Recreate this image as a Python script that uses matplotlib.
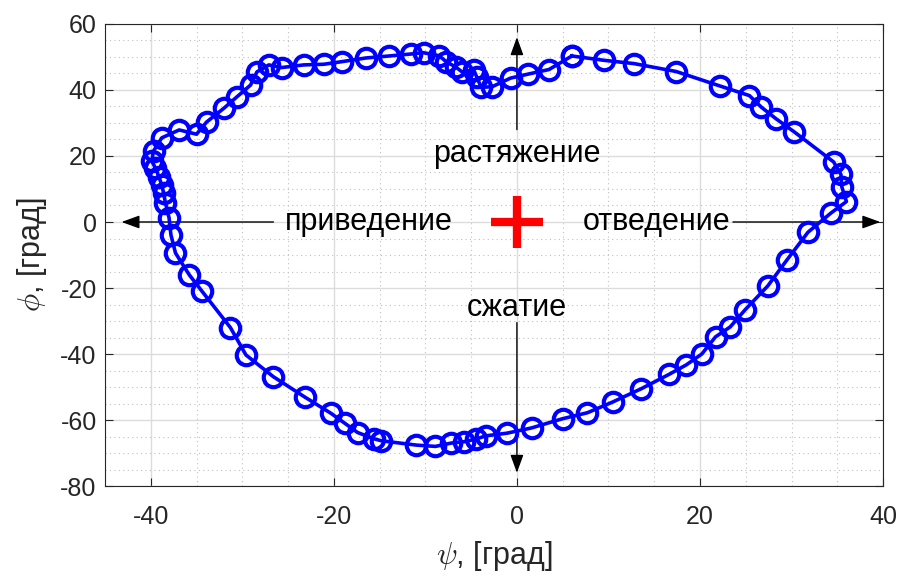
import matplotlib
matplotlib.use("Agg")
import matplotlib.pyplot as plt
from matplotlib.ticker import MultipleLocator

# траектория (psi, phi), град
psi = [6.0, 9.5, 12.8, 17.4, 22.2, 25.4, 26.7, 28.3, 30.3, 34.6, 35.4, 35.5, 36.0,
       34.3, 31.8, 29.5, 27.4, 24.9, 23.3, 21.7, 20.2, 18.5, 16.6, 13.6, 10.5, 7.7,
       5.0, 1.6, -1.1, -3.4, -4.5, -5.8, -7.2, -8.9, -11.0, -14.8, -15.6, -17.4,
       -18.8, -20.3, -23.2, -26.6, -29.6, -31.3, -34.4, -35.8, -37.3, -37.8, -38.0,
       -38.4, -38.6, -38.8, -39.1, -39.5, -39.9, -39.7, -38.8, -36.9, -35.0, -33.9,
       -32.0, -30.6, -29.1, -28.4, -27.1, -25.7, -23.3, -21.1, -19.1, -16.5, -14.0,
       -11.6, -10.2, -8.5, -7.7, -6.7, -6.0, -4.7, -4.4, -3.9, -2.7, -0.7, 1.2, 3.5, 6.0]
phi = [50.3, 49.0, 48.0, 45.6, 41.2, 38.3, 34.8, 31.3, 27.3, 18.2, 14.4, 10.6, 6.2,
       2.7, -3.1, -11.5, -19.4, -26.7, -31.8, -34.8, -40.0, -43.3, -46.2, -50.5,
       -54.5, -57.8, -59.6, -62.4, -64.0, -64.8, -65.8, -66.6, -67.0, -68.0, -67.6,
       -66.3, -65.7, -63.8, -61.0, -58.0, -53.0, -46.9, -40.3, -32.0, -21.0, -16.0,
       -9.4, -3.9, 1.2, 5.8, 8.8, 11.2, 13.6, 16.4, 18.5, 21.5, 25.5, 27.9, 26.6,
       30.3, 34.5, 37.9, 41.5, 45.5, 47.6, 46.8, 47.6, 47.8, 48.6, 49.7, 50.3, 50.9,
       51.3, 50.4, 48.5, 47.0, 45.5, 46.0, 44.0, 40.8, 41.0, 43.6, 44.8, 46.2, 50.3]

plt.rcParams['font.family'] = ['Liberation Sans', 'DejaVu Sans']
plt.rcParams['mathtext.fontset'] = 'cm'
plt.rcParams['axes.unicode_minus'] = False

fig = plt.figure(figsize=(9.03, 5.81), dpi=100)
ax = fig.add_axes([0.1163, 0.1635, 0.8616, 0.7952])

ax.plot(psi, phi, '-o', color='#0000ff', lw=2.6, ms=14, mfc='none', mew=3.0, zorder=3)
ax.plot([0], [0], '+', color='#ff0000', ms=38, mew=6, zorder=4)

arrow = dict(arrowstyle='-|>,head_length=1.1,head_width=0.4', color='black', lw=1.0,
             shrinkA=0, shrinkB=0)
ax.annotate('', xy=(-43.2, 0), xytext=(-26.6, 0), arrowprops=arrow, zorder=2)
ax.annotate('', xy=(39.7, 0), xytext=(23.6, 0), arrowprops=arrow, zorder=2)
ax.annotate('', xy=(0, 56), xytext=(0, 28), arrowprops=arrow, zorder=2)
ax.annotate('', xy=(0, -76), xytext=(0, -30.5), arrowprops=arrow, zorder=2)

ax.text(-16.2, 0, 'приведение', fontsize=22, ha='center', va='center')
ax.text(15.3, 0, 'отведение', fontsize=22, ha='center', va='center')
ax.text(0, 20.5, 'растяжение', fontsize=22, ha='center', va='center')
ax.text(0, -26, 'сжатие', fontsize=22, ha='center', va='center')

ax.set_xlim(-45, 40)
ax.set_ylim(-80, 60)
ax.xaxis.set_major_locator(MultipleLocator(20))
ax.yaxis.set_major_locator(MultipleLocator(20))
ax.xaxis.set_minor_locator(MultipleLocator(5))
ax.yaxis.set_minor_locator(MultipleLocator(5))
ax.grid(which='major', color='#dcdcdc', lw=1.0)
ax.grid(which='minor', color='#c0c0c0', lw=0.8, ls=(0, (1, 3)))
ax.set_axisbelow(True)
ax.tick_params(which='both', direction='in', top=True, right=True, labelsize=18,
               colors='#262626')
ax.tick_params(which='major', length=6)
ax.tick_params(which='minor', length=0)
ax.tick_params(axis='x', pad=14)
ax.tick_params(axis='y', pad=6)
for s in ax.spines.values():
    s.set_color('#262626')

ax.set_xlabel(r'$\psi$, [град]', fontsize=22, color='#262626', labelpad=7)
ax.set_ylabel(r'$\phi$, [град]', fontsize=22, color='#262626', labelpad=8)

fig.savefig('out.png', dpi=100)
